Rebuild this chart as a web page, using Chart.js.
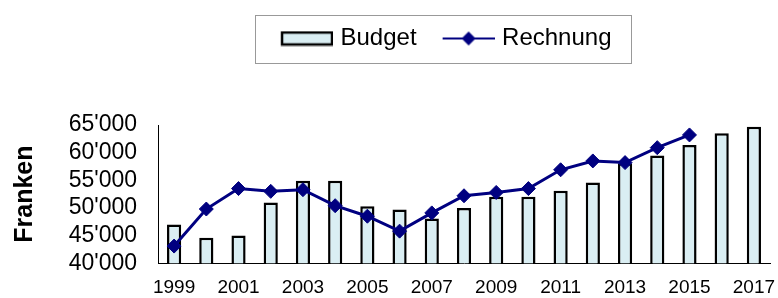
<!DOCTYPE html>
<html>
<head>
<meta charset="utf-8">
<script src="https://cdn.jsdelivr.net/npm/chart.js@4"></script>
<style>
  html, body { margin: 0; padding: 0; background: #fff; }
  #wrap { width: 778px; height: 298px; }
</style>
</head>
<body>
<div id="wrap"><canvas id="chart" width="778" height="298"></canvas></div>
<script>
var years = ["1999","2000","2001","2002","2003","2004","2005","2006","2007","2008",
             "2009","2010","2011","2012","2013","2014","2015","2016","2017"];
var budget = [47000, 44600, 45000, 51000, 54900, 54900, 50300, 49700, 48100, 50000,
              52000, 52000, 53100, 54600, 58100, 59500, 61400, 63500, 64700];
var rechnung = [43100, 49800, 53500, 53000, 53300, 50400, 48500, 45800, 49100, 52200,
                52800, 53500, 56900, 58500, 58200, 60900, 63200];

var FONT = "Arial, 'Liberation Sans', sans-serif";
var NAVY = "#000080";
var BARFILL = "#DAEEF3";
var LEGEND_SHIFT = 51;

// legend symbols as small canvases
function barSymbol() {
  var c = document.createElement("canvas");
  c.width = 65; c.height = 16;
  var x = c.getContext("2d");
  x.fillStyle = BARFILL;
  x.fillRect(14, 2, 50, 12);
  x.strokeStyle = "#000";
  x.lineWidth = 2.5;
  x.strokeRect(14, 2, 50, 12);
  return c;
}
function lineSymbol() {
  var c = document.createElement("canvas");
  c.width = 65; c.height = 16;
  var x = c.getContext("2d");
  x.strokeStyle = NAVY;
  x.lineWidth = 2;
  x.beginPath(); x.moveTo(13, 8); x.lineTo(65, 8); x.stroke();
  x.fillStyle = NAVY;
  x.beginPath();
  x.moveTo(39, 1); x.lineTo(46, 8); x.lineTo(39, 15); x.lineTo(32, 8);
  x.closePath(); x.fill();
  return c;
}
var symBar = barSymbol();
var symLine = lineSymbol();

function fmt(v) {
  var s = String(Math.round(v));
  return s.length > 3 ? s.slice(0, s.length - 3) + "'" + s.slice(-3) : s;
}

var legendTweak = {
  id: "legendTweak",
  beforeInit: function (chart) {
    var lg = chart.legend;
    var fit = lg.fit;
    lg.fit = function () {
      fit.call(this);
      this.height = 116;
    };
    var draw = lg.draw;
    lg.draw = function () {
      var c = this.ctx;
      c.save();
      c.translate(LEGEND_SHIFT, 0);
      draw.call(this);
      c.restore();
    };
  },
  afterDraw: function (chart) {
    var hb = chart.legend.legendHitBoxes;
    if (!hb || !hb.length) return;
    var last = hb[hb.length - 1];
    var left = hb[0].left + LEGEND_SHIFT + 8.5 - 26;
    var right = last.left + last.width + LEGEND_SHIFT + 20;
    var cy = hb[0].top + hb[0].height / 2;
    var c = chart.ctx;
    c.save();
    c.strokeStyle = "#999";
    c.lineWidth = 1;
    c.strokeRect(Math.round(left) + 0.5, Math.round(cy - 24) + 0.5,
                 Math.round(right - left), 48);
    c.restore();
  }
};

new Chart(document.getElementById("chart"), {
  type: "bar",
  data: {
    labels: years,
    datasets: [{
      type: "bar",
      label: "Budget",
      data: budget,
      backgroundColor: BARFILL,
      borderColor: "#000",
      borderWidth: 2.5,
      borderSkipped: false,
      barPercentage: 0.44,
      categoryPercentage: 1,
      order: 2
    }, {
      type: "line",
      label: "Rechnung",
      data: rechnung,
      borderColor: NAVY,
      borderWidth: 3,
      backgroundColor: NAVY,
      pointStyle: "rectRot",
      pointRadius: 7,
      pointBorderWidth: 1,
      pointBackgroundColor: NAVY,
      pointBorderColor: NAVY,
      tension: 0,
      order: 1
    }]
  },
  options: {
    responsive: false,
    animation: false,
    layout: { padding: { left: 10, right: 6, top: 9, bottom: 0 } },
    plugins: {
      tooltip: { enabled: false },
      legend: {
        position: "top",
        labels: {
          usePointStyle: true,
          pointStyleWidth: 56,
          padding: 17.5,
          color: "#000",
          font: { family: FONT, size: 24 },
          generateLabels: function () {
            return [
              { text: "Budget", pointStyle: symBar, datasetIndex: 0, hidden: false, lineWidth: 0, fontColor: "#000" },
              { text: "Rechnung", pointStyle: symLine, datasetIndex: 1, hidden: false, lineWidth: 0, fontColor: "#000" }
            ];
          }
        }
      }
    },
    scales: {
      x: {
        grid: { display: false, drawTicks: false },
        border: { display: true, color: "#000", width: 1 },
        ticks: {
          autoSkip: false,
          maxRotation: 0,
          padding: 13,
          color: "#000",
          font: { family: FONT, size: 19 },
          callback: function (v, i) { return i % 2 === 0 ? years[i] : ""; }
        },
        afterFit: function (s) { s.height = 34; s.paddingRight = 0; }
      },
      y: {
        min: 40000,
        max: 65000,
        grid: { display: false, drawTicks: false },
        border: { display: true, color: "#000", width: 1 },
        ticks: {
          stepSize: 5000,
          padding: 21,
          color: "#000",
          font: { family: FONT, size: 23 },
          callback: function (v) { return fmt(v); }
        },
        title: {
          display: true,
          text: "Franken",
          color: "#000",
          padding: 0,
          font: { family: FONT, size: 25, weight: "bold" }
        },
        afterFit: function (s) { s.width = 148; }
      }
    }
  },
  plugins: [legendTweak]
});
</script>
</body>
</html>
